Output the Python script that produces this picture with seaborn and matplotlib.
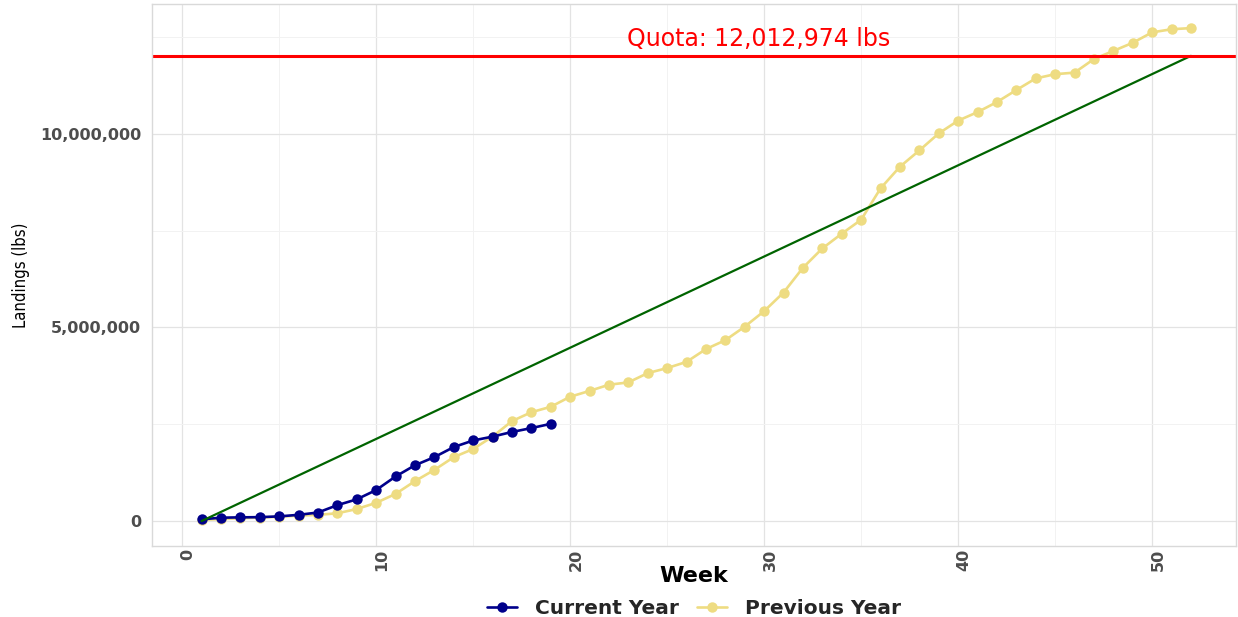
import pandas as pd
import numpy as np
import matplotlib
matplotlib.use("Agg")
import matplotlib.pyplot as plt
import matplotlib.ticker as mticker
import matplotlib.transforms as mtransforms
import seaborn as sns

quota = 12012974

current_weeks = list(range(1, 20))
current_lbs = [0.044, 0.086, 0.095, 0.10, 0.12, 0.16, 0.22, 0.41, 0.56, 0.80,
               1.15, 1.44, 1.65, 1.91, 2.08, 2.18, 2.30, 2.40, 2.51]

previous_weeks = list(range(1, 53))
previous_lbs = [0.03, 0.05, 0.07, 0.09, 0.11, 0.14, 0.16, 0.20, 0.31, 0.47,
                0.70, 1.03, 1.32, 1.65, 1.86, 2.18, 2.58, 2.81, 2.95, 3.21,
                3.36, 3.52, 3.58, 3.82, 3.95, 4.11, 4.44, 4.67, 5.02, 5.42,
                5.90, 6.54, 7.04, 7.42, 7.78, 8.59, 9.15, 9.57, 10.01, 10.34,
                10.56, 10.82, 11.13, 11.43, 11.54, 11.58, 11.93, 12.14, 12.35, 12.62,
                12.70, 12.73]

target_weeks = [1, 52]
target_lbs = [0, quota]

df = pd.concat([
    pd.DataFrame({"Week": current_weeks, "lbs": np.array(current_lbs) * 1e6, "year": "Current Year"}),
    pd.DataFrame({"Week": previous_weeks, "lbs": np.array(previous_lbs) * 1e6, "year": "Previous Year"}),
])
palette = {"Current Year": "#00008B", "Previous Year": "#EEDC82"}

sns.set_style("whitegrid")
plt.rcParams['font.family'] = ['DejaVu Sans']

fig = plt.figure(figsize=(12.38, 6.17), dpi=100)
ax = fig.add_axes([0.123, 0.115, 0.875, 0.879])

# previous year first so current year sits on top
for name in ["Previous Year", "Current Year"]:
    sub = df[df.year == name]
    sns.lineplot(data=sub, x="Week", y="lbs", color=palette[name], marker="o",
                 markersize=7.5, markeredgewidth=0, linewidth=1.9, ax=ax, label=name)

sns.lineplot(x=target_weeks, y=target_lbs, color="#006400", linewidth=1.6, ax=ax)
ax.axhline(quota, color="#FF0000", linewidth=2.2)
ax.text(29.7, quota + 120000, "Quota: 12,012,974 lbs", color="#FF0000",
        fontsize=17, ha="center", va="bottom")

ax.set_xlim(-1.54, 54.3)
ax.set_ylim(-646000, 13360000)
ax.set_xticks([0, 10, 20, 30, 40, 50])
ax.xaxis.set_minor_locator(mticker.MultipleLocator(5))
ax.set_yticks([0, 5e6, 1e7])
ax.yaxis.set_minor_locator(mticker.FixedLocator([2.5e6, 7.5e6, 12.5e6]))
ax.yaxis.set_major_formatter(mticker.FuncFormatter(lambda v, p: f"{int(v):,}"))
ax.grid(which="major", color="#E3E3E3", linewidth=0.9)
ax.grid(which="minor", color="#F2F2F2", linewidth=0.7)
ax.tick_params(axis="both", which="both", length=0)
ax.tick_params(axis="x", pad=2)
ax.tick_params(axis="y", pad=8)
shift = mtransforms.ScaledTranslation(6 / 100, 0, fig.dpi_scale_trans)
for lab in ax.get_xticklabels():
    lab.set_rotation(90)
    lab.set_transform(lab.get_transform() + shift)
for lab in ax.get_xticklabels() + ax.get_yticklabels():
    lab.set_fontweight("bold")
    lab.set_color("#4D4D4D")
    lab.set_fontsize(11.5)
for s in ax.spines.values():
    s.set_color("#D9D9D9")
    s.set_linewidth(1.0)

ax.set_xlabel("Week", fontsize=16, fontweight="bold", color="black", labelpad=-4)
ax.set_ylabel("Landings (lbs)", fontsize=12, color="black", fontstretch="condensed",
              labelpad=7)

handles, labels = ax.get_legend_handles_labels()
order = [labels.index("Current Year"), labels.index("Previous Year")]
leg = ax.legend([handles[i] for i in order], [labels[i] for i in order],
                loc="upper center", bbox_to_anchor=(0.5, -0.064), ncol=2, frameon=False,
                prop={"weight": "bold", "size": 14.5}, handlelength=1.5, columnspacing=0.9,
                handletextpad=0.9)

fig.savefig("out.png", dpi=100)
